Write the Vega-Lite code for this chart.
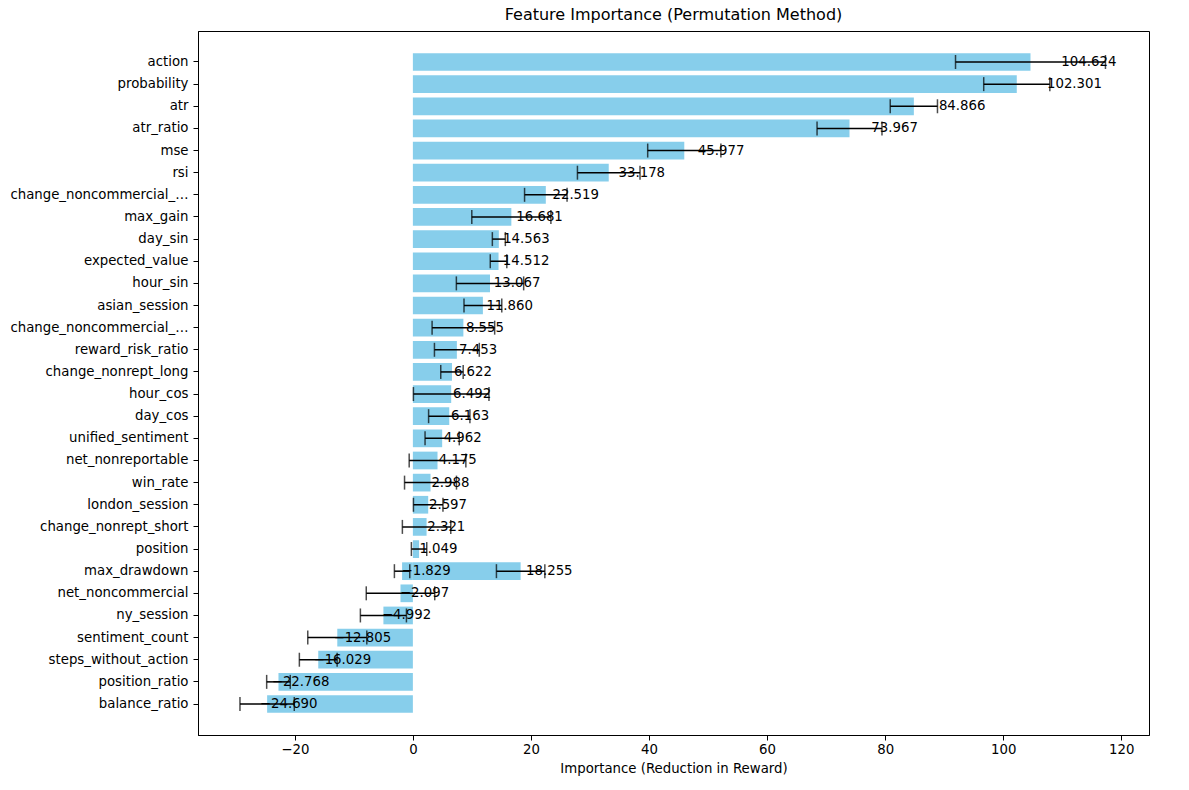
{
  "$schema": "https://vega.github.io/schema/vega-lite/v6.json",
  "width": 951,
  "height": 704,
  "padding": {"left": 9, "top": 7, "right": 9, "bottom": 5},
  "background": "white",
  "config": {
    "font": "DejaVu Sans",
    "view": {"stroke": "black"},
    "axis": {"grid": false, "labelFontSize": 13.3, "titleFontSize": 13.3, "labelColor": "black", "titleColor": "black", "domainColor": "black", "tickColor": "black", "titleFontWeight": "normal", "tickSize": 5},
    "title": {"fontSize": 16, "fontWeight": "normal", "offset": 8}
  },
  "title": "Feature Importance (Permutation Method)",
  "data": {
    "values": [
      {"feature": "action", "value": 104.624, "std": 12.7},
      {"feature": "probability", "value": 102.301, "std": 5.6},
      {"feature": "atr", "value": 84.866, "std": 4.0},
      {"feature": "atr_ratio", "value": 73.967, "std": 5.5},
      {"feature": "mse", "value": 45.977, "std": 6.2},
      {"feature": "rsi", "value": 33.178, "std": 5.3},
      {"feature": "change_noncommercial_long", "value": 22.519, "std": 3.6},
      {"feature": "max_gain", "value": 16.681, "std": 6.7},
      {"feature": "day_sin", "value": 14.563, "std": 1.1},
      {"feature": "expected_value", "value": 14.512, "std": 1.4},
      {"feature": "hour_sin", "value": 13.067, "std": 5.7},
      {"feature": "asian_session", "value": 11.86, "std": 3.2},
      {"feature": "change_noncommercial_short", "value": 8.555, "std": 5.3},
      {"feature": "reward_risk_ratio", "value": 7.453, "std": 3.8},
      {"feature": "change_nonrept_long", "value": 6.622, "std": 1.9},
      {"feature": "hour_cos", "value": 6.492, "std": 6.4},
      {"feature": "day_cos", "value": 6.163, "std": 3.5},
      {"feature": "unified_sentiment", "value": 4.962, "std": 2.9},
      {"feature": "net_nonreportable", "value": 4.175, "std": 4.8},
      {"feature": "win_rate", "value": 2.988, "std": 4.4},
      {"feature": "london_session", "value": 2.597, "std": 2.5},
      {"feature": "change_nonrept_short", "value": 2.321, "std": 4.1},
      {"feature": "position", "value": 1.049, "std": 1.3},
      {"feature": "max_drawdown", "value": 18.255, "std": 4.1},
      {"feature": "max_drawdown", "value": -1.829, "std": 1.3},
      {"feature": "net_noncommercial", "value": -2.097, "std": 5.8},
      {"feature": "ny_session", "value": -4.992, "std": 3.9},
      {"feature": "sentiment_count", "value": -12.805, "std": 5.0},
      {"feature": "steps_without_action", "value": -16.029, "std": 3.2},
      {"feature": "position_ratio", "value": -22.768, "std": 2.0},
      {"feature": "balance_ratio", "value": -24.69, "std": 4.6}
    ]
  },
  "transform": [
    {"calculate": "datum.value - datum.std", "as": "lo"},
    {"calculate": "datum.value + datum.std", "as": "hi"},
    {"calculate": "datum.value * 1.05", "as": "tx"},
    {"calculate": "format(datum.value, '.3f')", "as": "lbl"}
  ],
  "encoding": {
    "y": {
      "field": "feature",
      "type": "nominal",
      "sort": null,
      "title": null,
      "scale": {"paddingInner": 0.2, "paddingOuter": 1.42},
      "axis": {"labelPadding": 5}
    }
  },
  "layer": [
    {
      "mark": {"type": "bar", "color": "#87CEEB"},
      "encoding": {
        "x": {
          "field": "value",
          "type": "quantitative",
          "title": "Importance (Reduction in Reward)",
          "scale": {"domain": [-36.4, 124.7], "nice": false, "zero": false},
          "axis": {"values": [-20, 0, 20, 40, 60, 80, 100, 120], "titlePadding": 6}
        }
      }
    },
    {
      "mark": {"type": "rule", "color": "black", "strokeWidth": 1.5},
      "encoding": {"x": {"field": "lo", "type": "quantitative"}, "x2": {"field": "hi"}}
    },
    {
      "mark": {"type": "tick", "color": "black", "orient": "vertical", "size": 14, "thickness": 1.5},
      "encoding": {"x": {"field": "lo", "type": "quantitative"}}
    },
    {
      "mark": {"type": "tick", "color": "black", "orient": "vertical", "size": 14, "thickness": 1.5},
      "encoding": {"x": {"field": "hi", "type": "quantitative"}}
    },
    {
      "mark": {"type": "text", "align": "left", "baseline": "middle", "fontSize": 13.3, "color": "black"},
      "encoding": {"x": {"field": "tx", "type": "quantitative"}, "text": {"field": "lbl"}}
    }
  ]
}
